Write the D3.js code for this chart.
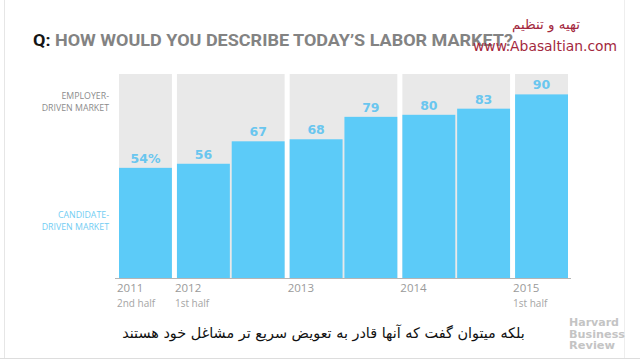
<!DOCTYPE html>
<html><head><meta charset="utf-8">
<script src="https://cdn.jsdelivr.net/npm/d3@7"></script>
<style>body{margin:0;background:#fff}svg{display:block}</style>
</head><body>
<svg id="c" width="640" height="360"></svg>
<script>
const periods = ["2011 H2","2012 H1","2012 H2","2013 H1","2013 H2","2014 H1","2014 H2","2015 H1"];
const periodYears = ["2011","2012","2012","2013","2013","2014","2014","2015"];
const values = [54,56,67,68,79,80,83,90];
const valueLabels = ["54%","56","67","68","79","80","83","90"];
const tickYears = ["2011","2012","2013","2014","2015"];
const tickSubs = ["2nd half","1st half","","","1st half"];

const svg = d3.select("#c");

// frame
svg.append("line").attr("x1",4.5).attr("x2",4.5).attr("y1",0).attr("y2",358).attr("stroke","#e6e6e6");
svg.append("line").attr("x1",624.5).attr("x2",624.5).attr("y1",0).attr("y2",358).attr("stroke","#eeeeee");
svg.append("line").attr("x1",0).attr("x2",640).attr("y1",358.5).attr("y2",358.5).attr("stroke","#dddddd");

// layout units along x
const wideGap = 0.095, thinGap = 0.035;
let cursor = 0;
const starts = [];
periods.forEach((p,i)=>{
  if(i>0){ cursor += (periodYears[i]!==periodYears[i-1]) ? wideGap : thinGap; }
  starts.push(cursor);
  cursor += 1;
});
const x = d3.scaleLinear().domain([0,cursor]).range([119,568]);
const y = d3.scaleLinear().domain([0,100]).range([278,74]);

const groups = tickYears.map((yr,gi)=>{
  const idx = periodYears.map((v,i)=>v===yr?i:-1).filter(i=>i>=0);
  return {year:yr, sub:tickSubs[gi], s:starts[idx[0]], e:starts[idx[idx.length-1]]+1};
});

svg.append("g").selectAll("rect").data(groups).join("rect")
  .attr("x",d=>x(d.s)).attr("width",d=>x(d.e)-x(d.s))
  .attr("y",y(100)).attr("height",y(0)-y(100))
  .attr("fill","#e9e9e9");

svg.append("g").selectAll("rect").data(values).join("rect")
  .attr("x",(d,i)=>x(starts[i])).attr("width",(d,i)=>x(starts[i]+1)-x(starts[i]))
  .attr("y",d=>y(d)).attr("height",d=>y(0)-y(d))
  .attr("fill","#5ccbf8");

svg.append("g").selectAll("text").data(values).join("text")
  .attr("x",(d,i)=>x(starts[i]+0.5)).attr("y",d=>y(d)-5)
  .attr("text-anchor","middle")
  .attr("font-family","'DejaVu Sans', sans-serif").attr("font-weight","bold")
  .attr("font-size",12.5).attr("fill","#6ac6ef")
  .text((d,i)=>valueLabels[i]);

svg.append("line").attr("x1",115).attr("x2",571).attr("y1",y(0)+0.5).attr("y2",y(0)+0.5)
  .attr("stroke","#b5b5b5");

const tg = svg.append("g").selectAll("g").data(groups).join("g")
  .attr("transform",d=>`translate(${x(d.s)-2},0)`);
tg.append("text").attr("y",292).attr("font-family","'Open Sans', sans-serif")
  .attr("font-size",11.5).attr("fill","#9a9a9a").text(d=>d.year);
tg.append("text").attr("y",307).attr("font-family","'Open Sans', sans-serif")
  .attr("font-size",10).attr("fill","#a5a5a5").text(d=>d.sub);

const ll = svg.append("g").attr("font-family","'Open Sans', sans-serif").attr("font-size",8.8).attr("text-anchor","end");
ll.append("text").attr("x",109).attr("y",99).attr("fill","#8c8c8c").text("EMPLOYER-");
ll.append("text").attr("x",109).attr("y",111).attr("fill","#8c8c8c").text("DRIVEN MARKET");
ll.append("text").attr("x",109).attr("y",218).attr("fill","#72cdf3").text("CANDIDATE-");
ll.append("text").attr("x",109).attr("y",230).attr("fill","#72cdf3").text("DRIVEN MARKET");

// title
const t = svg.append("text").attr("x",33).attr("y",46)
  .attr("font-family","Roboto, 'DejaVu Sans', sans-serif").attr("font-weight","bold").attr("font-size",16)
  .attr("textLength",480).attr("lengthAdjust","spacingAndGlyphs");
t.append("tspan").attr("fill","#151515").text("Q: ");
t.append("tspan").attr("fill","#838383").text("HOW WOULD YOU DESCRIBE TODAY\u2019S LABOR MARKET?");

function fit(sel, target){
  const w = sel.node().getComputedTextLength();
  const fs = +sel.attr("font-size");
  if (w > 0) sel.attr("font-size", fs*target/w);
}

// watermark
const wm = svg.append("text").attr("x",546).attr("y",29).attr("text-anchor","middle")
  .attr("font-family","'DejaVu Sans', sans-serif").attr("font-size",12).attr("fill","#a3283d")
  .text("تهیه و تنظیم");
fit(wm, 68);
svg.append("text").attr("x",473).attr("y",51)
  .attr("font-family","'DejaVu Sans', sans-serif").attr("font-size",14).attr("fill","#a3283d")
  .attr("textLength",144).attr("lengthAdjust","spacingAndGlyphs").text("www.Abasaltian.com");

// caption
const cap = svg.append("text").attr("x",323.5).attr("y",338).attr("text-anchor","middle")
  .attr("font-family","'DejaVu Sans', sans-serif").attr("font-size",15).attr("fill","#111")
  .text("بلکه میتوان گفت که آنها قادر به تعویض سریع تر مشاغل خود هستند");
fit(cap, 403);

// HBR logo
const hb = svg.append("g").attr("font-family","'DejaVu Sans', sans-serif").attr("font-weight","bold")
  .attr("font-size",10).attr("fill","#c4c4c4");
["Harvard","Business","Review"].forEach((w,i)=>hb.append("text").attr("x",569).attr("y",326+i*11.5)
  .attr("textLength",[50,56,46][i]).attr("lengthAdjust","spacingAndGlyphs").text(w));
</script>
</body></html>
